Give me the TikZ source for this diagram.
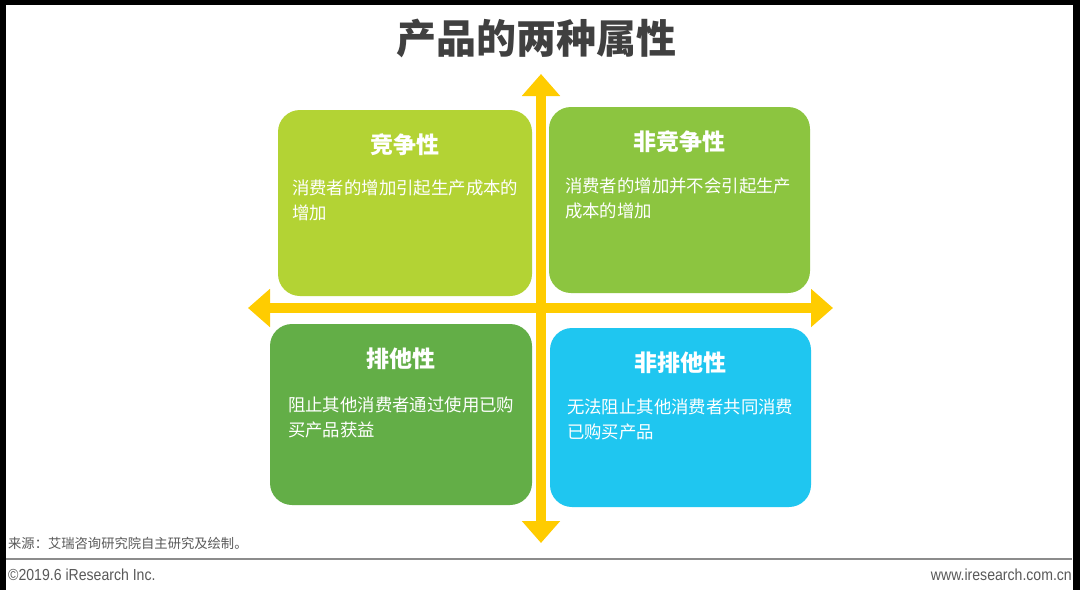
\documentclass[tikz,border=0pt]{standalone}
\usepackage{fontspec}
\setmainfont{Noto Sans CJK SC}
\newfontfamily\latinfont[FakeStretch=0.88]{Liberation Sans}
\usepackage{tikz}
\usetikzlibrary{arrows.meta,positioning}
\definecolor{cardlime}{HTML}{B3D334}
\definecolor{cardgreen}{HTML}{8CC540}
\definecolor{carddark}{HTML}{63AE47}
\definecolor{cardcyan}{HTML}{1FC6F0}
\definecolor{axisyellow}{HTML}{FFCC00}
\definecolor{titlegray}{HTML}{404040}
\definecolor{notegray}{HTML}{595959}
\definecolor{rulegray}{HTML}{8C8C8C}
\tikzset{
  card/.style={draw=none,rounded corners=22pt,inner sep=0pt},
  cardtitle/.style={text=white,inner sep=0pt,font=\fontsize{23}{23}\selectfont\bfseries},
  cardtext/.style={text=white,inner sep=0pt,align=left,font=\fontsize{17.4}{25}\selectfont},
  axis/.style={draw=axisyellow,line width=10pt,{Triangle[width=37pt,length=22pt]}-{Triangle[width=37pt,length=22pt]}},
  note/.style={text=notegray,inner sep=0pt,font=\fontsize{13.3}{13.3}\selectfont}
}

\begin{document}
\begin{tikzpicture}[x=1pt,y=-1pt]
  \useasboundingbox (0,0) rectangle (1080,590);
  \fill[white] (0,0) rectangle (1080,590);
  % frame edges
  \fill[black] (0,0) rectangle (1080,5);
  \fill[black] (0,0) rectangle (6,590);
  \fill[black] (1073,0) rectangle (1080,590);

  \node[text=titlegray,inner sep=0pt,font=\fontsize{40}{40}\selectfont\bfseries] (title) at (536,38) {产品的两种属性};

  % axes
  \coordinate (axt) at (541,74);
  \coordinate (axb) at (541,543);
  \coordinate (axl) at (248,308);
  \coordinate (axr) at (833,308);
  \draw[axis] (axb) -- (axt);
  \draw[axis] (axl) -- (axr);

  % quadrants
  \node[card,fill=cardlime,minimum width=254pt,minimum height=186pt] (rival) at (405,203) {};
  \node[card,fill=cardgreen,minimum width=261pt,minimum height=186pt] (nonrival) at (679.5,200) {};
  \node[card,fill=carddark,minimum width=262pt,minimum height=181pt] (excl) at (401,414.5) {};
  \node[card,fill=cardcyan,minimum width=261pt,minimum height=179pt] (nonexcl) at (680.5,417.5) {};

  \node[cardtitle,below=24pt of rival.north] (rival-t) {竞争性};
  \node[cardtitle,below=24pt of nonrival.north] (nonrival-t) {非竞争性};
  \node[cardtitle,below=24pt of excl.north] (excl-t) {排他性};
  \node[cardtitle,below=24pt of nonexcl.north] (nonexcl-t) {非排他性};

  \node[cardtext,below right=70pt and 14pt of rival.north west] (rival-d) {消费者的增加引起生产成本的\\增加};
  \node[cardtext,below right=71pt and 16pt of nonrival.north west] (nonrival-d) {消费者的增加并不会引起生产\\成本的增加};
  \node[cardtext,below right=73pt and 18pt of excl.north west] (excl-d) {阻止其他消费者通过使用已购\\买产品获益};
  \node[cardtext,below right=71pt and 17pt of nonexcl.north west] (nonexcl-d) {无法阻止其他消费者共同消费\\已购买产品};

  % footer
  \node[note,anchor=west] (source) at (8,543) {来源：艾瑞咨询研究院自主研究及绘制。};
  \coordinate (rulel) at (6,559);
  \coordinate (ruler) at (1072,559);
  \draw[rulegray,line width=1.5pt] (rulel) -- (ruler);
  \node[note,anchor=west,font=\latinfont\fontsize{16}{16}\selectfont] (copy) at (8,575) {©2019.6 iResearch Inc.};
  \node[note,anchor=east,font=\latinfont\fontsize{16}{16}\selectfont] (site) at (1072,575) {www.iresearch.com.cn};
\end{tikzpicture}
\end{document}
